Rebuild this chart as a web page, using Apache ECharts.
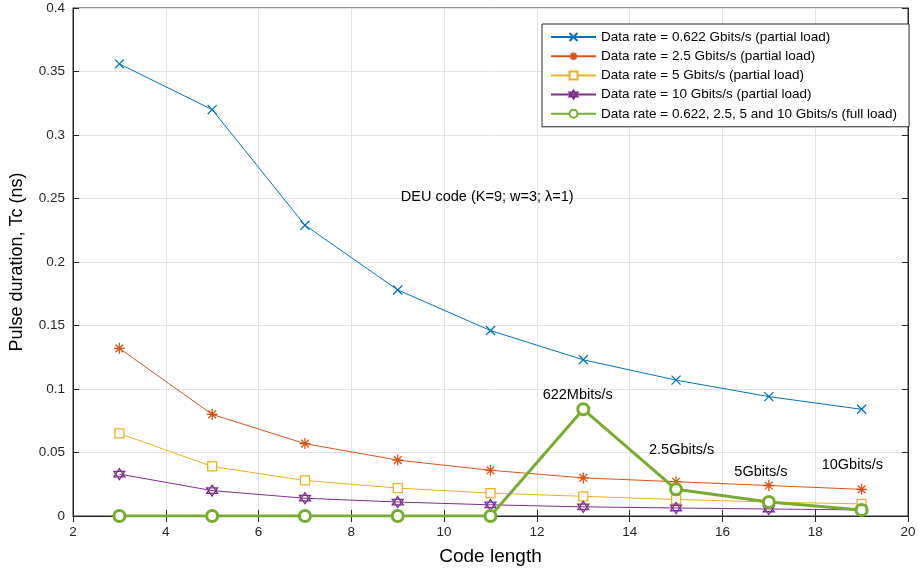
<!DOCTYPE html>
<html>
<head>
<meta charset="utf-8">
<script src="https://cdn.jsdelivr.net/npm/echarts@6/dist/echarts.min.js"></script>
<style>
  html, body { margin: 0; padding: 0; background: #fff; }
  #main { width: 923px; height: 571px; }
</style>
</head>
<body>
<div id="main"></div>
<script>
// code lengths on the x axis
const codeLength = [3, 5, 7, 9, 11, 13, 15, 17, 19];

// pulse duration Tc (ns)
const rate0622 = [0.356, 0.320, 0.229, 0.178, 0.146, 0.123, 0.107, 0.094, 0.084];
const rate25 = [0.132, 0.080, 0.057, 0.044, 0.036, 0.030, 0.027, 0.024, 0.021];
const rate5 = [0.065, 0.039, 0.028, 0.022, 0.018, 0.0155, 0.013, 0.011, 0.0095];
const rate10 = [0.033, 0.020, 0.014, 0.011, 0.0088, 0.0072, 0.0063, 0.0055, 0.0048];
const fullLoad = [0, 0, 0, 0, 0, 0.084, 0.021, 0.011, 0.0048];

const seriesNames = [
  'Data rate = 0.622 Gbits/s (partial load)',
  'Data rate = 2.5 Gbits/s (partial load)',
  'Data rate = 5 Gbits/s (partial load)',
  'Data rate = 10 Gbits/s (partial load)',
  'Data rate = 0.622, 2.5, 5 and 10 Gbits/s (full load)'
];

// text notes in data coordinates
const notes = [
  [12.88, 0.095, '622Mbits/s'],
  [15.12, 0.052, '2.5Gbits/s'],
  [16.83, 0.0345, '5Gbits/s'],
  [18.8, 0.040, '10Gbits/s'],
  [10.93, 0.2515, 'DEU code (K=9; w=3; \u03bb=1)']
];

const font = 'Liberation Sans, Arial, Helvetica, sans-serif';
const colors = ['#0072BD', '#D95319', '#EDB120', '#7E2F8E', '#77AC30'];

const crossPath = 'path://M0,0L10,10M10,0L0,10';
const starPath = 'path://M5,0L5,10M0,5L10,5M1.5,1.5L8.5,8.5M8.5,1.5L1.5,8.5';
const hexPath = 'path://M5,0L9.33,7.5L0.67,7.5ZM5,10L0.67,2.5L9.33,2.5Z';

const pairs = arr => codeLength.map((x, i) => [x, arr[i]]);

const chart = echarts.init(document.getElementById('main'));

function lineSeries(idx, data, symbol, size, fill, width) {
  return {
    name: seriesNames[idx],
    type: 'line',
    data: pairs(data),
    symbol: symbol,
    symbolSize: size,
    showSymbol: true,
    lineStyle: { color: colors[idx], width: width },
    itemStyle: { color: fill, borderColor: colors[idx], borderWidth: idx === 4 ? 3 : 1.3 },
    emphasis: { disabled: true },
    animation: false,
    z: idx === 4 ? 5 : 3
  };
}

const series = [
  lineSeries(0, rate0622, crossPath, 9, 'rgba(0,0,0,0)', 1),
  lineSeries(1, rate25, starPath, 11, 'rgba(0,0,0,0)', 1),
  lineSeries(2, rate5, 'rect', 9, '#fff', 1),
  lineSeries(3, rate10, hexPath, 11, 'rgba(0,0,0,0)', 1),
  lineSeries(4, fullLoad, 'circle', 11, '#fff', 3)
];

series[4].markPoint = {
  symbol: 'circle',
  symbolSize: 0,
  silent: true,
  animation: false,
  label: {
    show: true,
    position: 'inside',
    color: '#000',
    fontFamily: font,
    fontSize: 14.5,
    formatter: p => p.name
  },
  data: notes.map(n => ({ name: n[2], coord: [n[0], n[1]] }))
};

const option = {
  backgroundColor: '#fff',
  animation: false,
  grid: { left: 66, right: 15, top: 8, bottom: 54, show: true, borderColor: '#262626', borderWidth: 1 },
  legend: {
    left: 542,
    top: 24,
    orient: 'vertical',
    backgroundColor: '#fff',
    borderColor: '#262626',
    borderWidth: 1,
    borderRadius: 0,
    padding: [6, 12, 6, 8],
    itemGap: 5.2,
    itemWidth: 45,
    itemHeight: 10,
    textStyle: { fontFamily: font, fontSize: 13.5, color: '#000' },
    data: seriesNames
  },
  xAxis: [{
    type: 'value',
    min: 2,
    max: 20,
    interval: 2,
    name: 'Code length',
    nameLocation: 'middle',
    nameGap: 31,
    nameTextStyle: { fontFamily: font, fontSize: 19, color: '#000' },
    axisLine: { show: true, onZero: false, lineStyle: { color: '#262626' } },
    axisTick: { show: true, inside: true, length: 6, lineStyle: { color: '#262626' } },
    axisLabel: { fontFamily: font, fontSize: 13.5, color: '#262626', margin: 9 },
    splitLine: { show: true, lineStyle: { color: '#e3e3e3' } }
  }, {
    type: 'value',
    position: 'top',
    min: 2,
    max: 20,
    interval: 2,
    axisLine: { show: true, lineStyle: { color: '#262626' } },
    axisTick: { show: true, inside: true, length: 6, lineStyle: { color: '#262626' } },
    axisLabel: { show: false },
    splitLine: { show: false }
  }],
  yAxis: [{
    type: 'value',
    min: 0,
    max: 0.4,
    interval: 0.05,
    name: 'Pulse duration, Tc (ns)',
    nameLocation: 'middle',
    nameGap: 47,
    nameTextStyle: { fontFamily: font, fontSize: 18, color: '#000' },
    axisLine: { show: true, lineStyle: { color: '#262626' } },
    axisTick: { show: true, inside: true, length: 6, lineStyle: { color: '#262626' } },
    axisLabel: { fontFamily: font, fontSize: 13.5, color: '#262626', margin: 8 },
    splitLine: { show: true, lineStyle: { color: '#e3e3e3' } }
  }, {
    type: 'value',
    position: 'right',
    min: 0,
    max: 0.4,
    interval: 0.05,
    axisLine: { show: true, lineStyle: { color: '#262626' } },
    axisTick: { show: true, inside: true, length: 6, lineStyle: { color: '#262626' } },
    axisLabel: { show: false },
    splitLine: { show: false }
  }],
  series: series
};

chart.setOption(option);
</script>
</body>
</html>
